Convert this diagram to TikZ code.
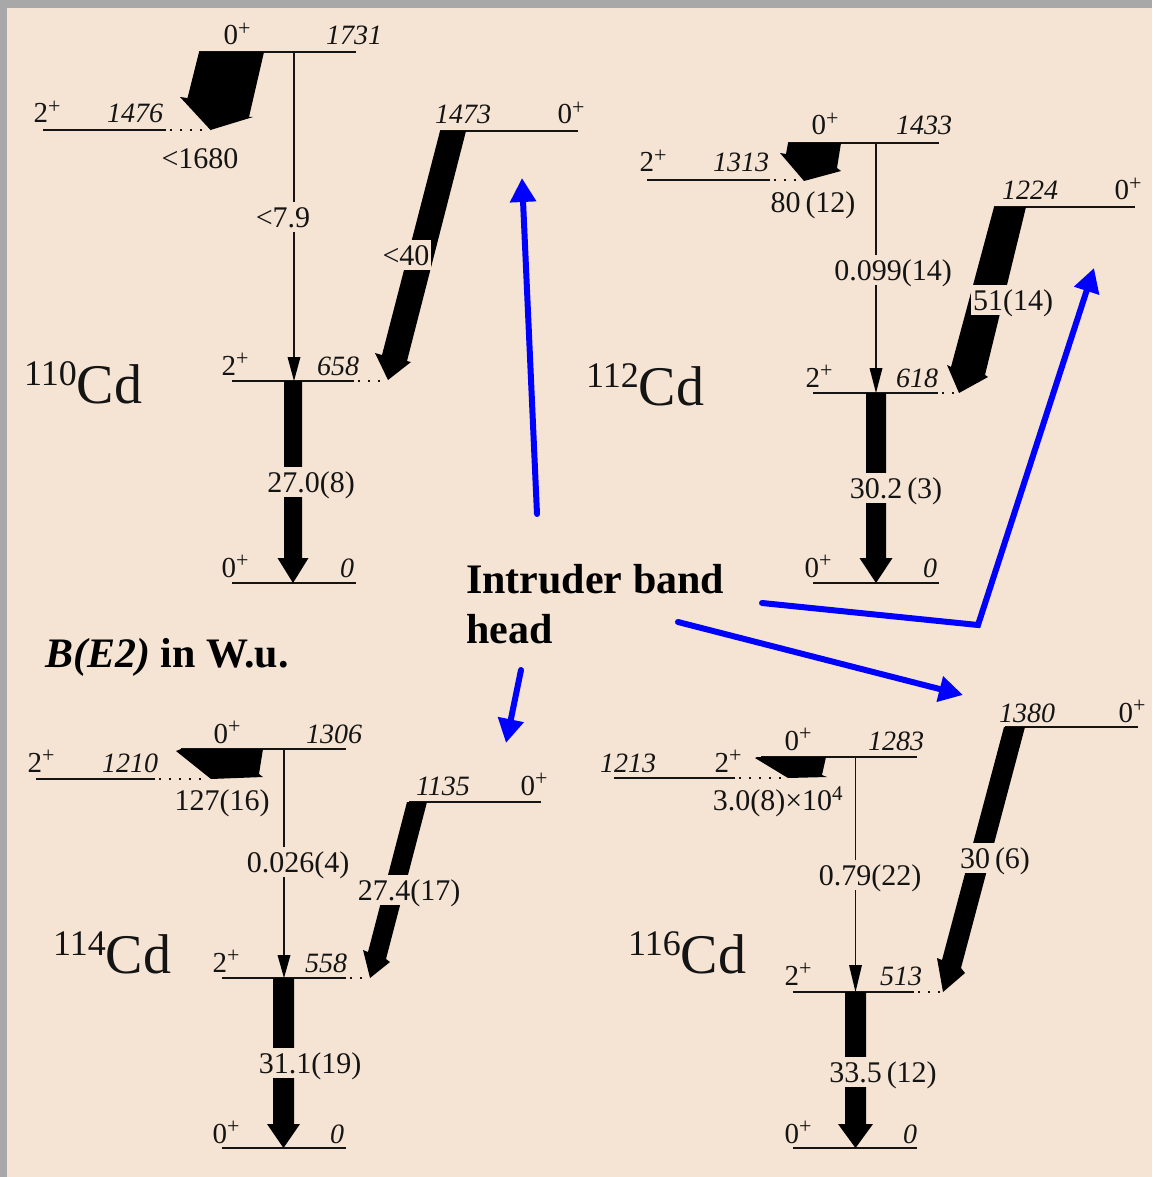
\documentclass[tikz,border=0pt]{standalone}
\usepackage{fontspec}
\setmainfont{Liberation Serif}
\usetikzlibrary{arrows.meta}
\definecolor{bg}{RGB}{245,228,211}
\definecolor{frame}{RGB}{168,168,168}
\definecolor{ink}{RGB}{20,20,20}
\newcommand{\myspin}[1]{#1\raisebox{0.33em}{\fontsize{22}{22}\selectfont +}}
\newcommand{\myiso}[1]{{\fontsize{36}{36}\selectfont\raisebox{18pt}{#1}}{\fontsize{56}{56}\selectfont Cd}}
\newcommand{\level}[4]{\coordinate (#1-l) at (#2,#4); \coordinate (#1-r) at (#3,#4); \draw[lvl] (#1-l) -- (#1-r);}
\newcommand{\vfat}[6]{\fill[black] (#1-#5,#2) -- (#1+#5,#2) -- (#1+#5,#3) -- (#1+#6,#3) -- (#1,#4) -- (#1-#6,#3) -- (#1-#5,#3) -- cycle;}
\newcommand{\vthin}[4]{\draw[thinl] (#1,#2) -- (#1,#3+2); \fill[black] (#1-6.5,#3) -- (#1+6.5,#3) -- (#1,#4) -- cycle;}
\begin{document}
\begin{tikzpicture}[x=1pt,y=-1pt,
  lvl/.style={draw=ink,line width=2pt},
  dotl/.style={draw=ink,line width=2pt,dash pattern=on 2pt off 8pt},
  thinl/.style={draw=ink,line width=1.2pt},
  en/.style={font=\fontsize{28}{28}\selectfont\itshape,anchor=base,inner sep=0pt,text=ink},
  sp/.style={font=\fontsize{29}{29}\selectfont,anchor=base,inner sep=0pt,text=ink},
  val/.style={font=\fontsize{30}{30}\selectfont,anchor=base,inner sep=0pt,text=ink},
  mval/.style={val,fill=bg,text height=24pt,text depth=4pt,inner xsep=2pt,inner ysep=1pt},
  iso/.style={anchor=base west,inner sep=0pt,text=ink},
  bluearr/.style={draw=blue,line width=6pt,line cap=round,line join=miter,-{Triangle[length=24pt,width=25pt]}},
  big/.style={font=\fontsize{42}{42}\selectfont\bfseries,anchor=base west,inner sep=0pt}
]
\fill[frame] (0,0) rectangle (1152,1177);
\fill[bg] (7,8) rectangle (1152,1177);
\useasboundingbox (0,0) rectangle (1152,1177);

% ================= 110Cd =================
\level{A1731}{199}{356}{52}
\level{A1476}{43}{166}{130}
\coordinate (A1476-d) at (210,130);
\draw[dotl] (A1476-r) ++(4,0) -- (A1476-d);
\level{A1473}{440}{578}{131}
\level{A658}{232}{354}{381}
\coordinate (A658-d) at (386,381);
\draw[dotl] (A658-r) ++(4,0) -- (A658-d);
\level{A0}{232}{356}{583}
\fill[black] (199,52) -- (264,52) -- (249,117) -- (253,117) -- (210.5,130) -- (180,97) -- (187.5,98) -- cycle;
\fill[black] (440,131) -- (466,131) -- (407,361) -- (411,362) -- (388,380) -- (375,353) -- (382,355) -- cycle;
\vthin{294}{52}{357}{381}
\vfat{293}{381}{558}{583}{9}{15.5}
\node[sp] (A1731s) at (237,45) {\myspin{0}};
\node[en] (A1731t) at (354,45) {1731};
\node[sp] (A1476s) at (47,123) {\myspin{2}};
\node[en] (A1476t) at (135,123) {1476};
\node[en] (A1473t) at (463,124) {1473};
\node[sp] (A1473s) at (571,124) {\myspin{0}};
\node[sp] (A658s) at (235,375) {\myspin{2}};
\node[en] (A658t) at (338,375) {658};
\node[sp] (A0s) at (235,577) {\myspin{0}};
\node[en] (A0t) at (347,577) {0};
\node[val] (Av1) at (200,168) {<1680};
\node[mval] (Av2) at (283,227) {<7.9};
\node[mval] (Av3) at (406,265) {<40};
\node[mval] (Av4) at (311,492) {27.0(8)};
\node[iso] (Aiso) at (24,403) {\myiso{110}};

% ================= 112Cd =================
\level{B1433}{788}{939}{143}
\level{B1313}{647}{770}{180}
\coordinate (B1313-d) at (802,180);
\draw[dotl] (B1313-r) ++(4,0) -- (B1313-d);
\level{B1224}{994}{1135}{207}
\level{B618}{813}{938}{393}
\coordinate (B618-d) at (958,393);
\draw[dotl] (B618-r) ++(4,0) -- (B618-d);
\level{B0}{813}{939}{583}
\fill[black] (788,143) -- (841,143) -- (837,168) -- (841,171) -- (804,181) -- (780,153) -- (786,154) -- cycle;
\fill[black] (994,207) -- (1026,207) -- (985,375) -- (988,377) -- (959,393) -- (947,365) -- (951,367) -- cycle;
\vthin{876}{143}{368}{393}
\vfat{876}{393}{558}{583}{10}{16.5}
\node[sp] (B1433s) at (825,135) {\myspin{0}};
\node[en] (B1433t) at (924,135) {1433};
\node[sp] (B1313s) at (653,172) {\myspin{2}};
\node[en] (B1313t) at (741,172) {1313};
\node[en] (B1224t) at (1030,200) {1224};
\node[sp] (B1224s) at (1128,200) {\myspin{0}};
\node[sp] (B618s) at (819,387) {\myspin{2}};
\node[en] (B618t) at (917,387) {618};
\node[sp] (B0s) at (818,577) {\myspin{0}};
\node[en] (B0t) at (930,577) {0};
\node[val] (Bv1) at (813,212) {80\,(12)};
\node[mval] (Bv2) at (893,280) {0.099(14)};
\node[mval] (Bv3) at (1013,310) {51(14)};
\node[mval] (Bv4) at (896,498) {30.2\,(3)};
\node[iso] (Biso) at (586,405) {\myiso{112}};

% ================= 114Cd =================
\level{C1306}{181}{346}{749}
\level{C1210}{36}{155}{779}
\coordinate (C1210-d) at (207,779);
\draw[dotl] (C1210-r) ++(4,0) -- (C1210-d);
\level{C1135}{409}{541}{802}
\level{C558}{222}{346}{978}
\coordinate (C558-d) at (368,978);
\draw[dotl] (C558-r) ++(4,0) -- (C558-d);
\level{C0}{222}{346}{1148}
\fill[black] (181,749) -- (263,749) -- (259,774) -- (263,777) -- (211,779) -- (176,751) -- cycle;
\fill[black] (407,802) -- (427,802) -- (386,959) -- (390,962) -- (370,978) -- (363,950) -- (368,952) -- cycle;
\vthin{284}{749}{955}{978}
\vfat{283.5}{978}{1124}{1148}{10.5}{16.5}
\node[sp] (C1306s) at (227,743) {\myspin{0}};
\node[en] (C1306t) at (334,743) {1306};
\node[sp] (C1210s) at (41,772) {\myspin{2}};
\node[en] (C1210t) at (130,772) {1210};
\node[en] (C1135t) at (443,795) {1135};
\node[sp] (C1135s) at (534,795) {\myspin{0}};
\node[sp] (C558s) at (226,972) {\myspin{2}};
\node[en] (C558t) at (326,972) {558};
\node[sp] (C0s) at (226,1143) {\myspin{0}};
\node[en] (C0t) at (337,1143) {0};
\node[val] (Cv1) at (222,810) {127(16)};
\node[mval] (Cv2) at (298,872) {0.026(4)};
\node[mval] (Cv3) at (409,900) {27.4(17)};
\node[mval] (Cv4) at (310,1073) {31.1(19)};
\node[iso] (Ciso) at (53,973) {\myiso{114}};

% ================= 116Cd =================
\level{D1283}{761}{917}{757}
\level{D1213}{614}{735}{778}
\coordinate (D1213-d) at (784,778);
\draw[dotl] (D1213-r) ++(4,0) -- (D1213-d);
\level{D1380}{1005}{1138}{727}
\level{D513}{793}{914}{992}
\coordinate (D513-d) at (940,992);
\draw[dotl] (D513-r) ++(4,0) -- (D513-d);
\level{D0}{793}{917}{1148}
\fill[black] (757,757) -- (826,757) -- (822,775) -- (827,777) -- (788,778) -- (755,758) -- cycle;
\fill[black] (1004,727) -- (1025,727) -- (961,968) -- (965,973) -- (943,992) -- (937,958) -- (942,960) -- cycle;
\vthin{855.5}{757}{965}{992}
\vfat{855.5}{992}{1124}{1148}{10.5}{17.5}
\node[sp] (D1283s) at (798,750) {\myspin{0}};
\node[en] (D1283t) at (896,750) {1283};
\node[en] (D1213t) at (628,772) {1213};
\node[sp] (D1213s) at (728,772) {\myspin{2}};
\node[en] (D1380t) at (1027,722) {1380};
\node[sp] (D1380s) at (1132,722) {\myspin{0}};
\node[sp] (D513s) at (798,985) {\myspin{2}};
\node[en] (D513t) at (901,985) {513};
\node[sp] (D0s) at (798,1143) {\myspin{0}};
\node[en] (D0t) at (910,1143) {0};
\node[val] (Dv1) at (778,810) {3.0(8)×10\textsuperscript{4}};
\node[mval] (Dv2) at (870,885) {0.79(22)};
\node[mval] (Dv3) at (995,868) {30\,(6)};
\node[mval] (Dv4) at (883,1082) {33.5\,(12)};
\node[iso] (Diso) at (628,973) {\myiso{116}};

% ================= annotations =================
\node[big] (ib1) at (466,593) {Intruder band};
\node[big] (ib2) at (466,643) {head};
\node[big] (be2) at (45,667) {\textit{B(E2)} in W.u.};
\coordinate (p1s) at (537,514);
\coordinate (p1e) at (522,178);
\coordinate (p2s) at (762,603);
\coordinate (p2m) at (978,625);
\coordinate (p2e) at (1094,268);
\coordinate (p3s) at (678,622);
\coordinate (p3e) at (963,695);
\coordinate (p4s) at (521,670);
\coordinate (p4e) at (506,743);
\draw[bluearr] (p1s) -- (p1e);
\draw[bluearr] (p2s) -- (p2m) -- (p2e);
\draw[bluearr] (p3s) -- (p3e);
\draw[bluearr] (p4s) -- (p4e);
\end{tikzpicture}
\end{document}
